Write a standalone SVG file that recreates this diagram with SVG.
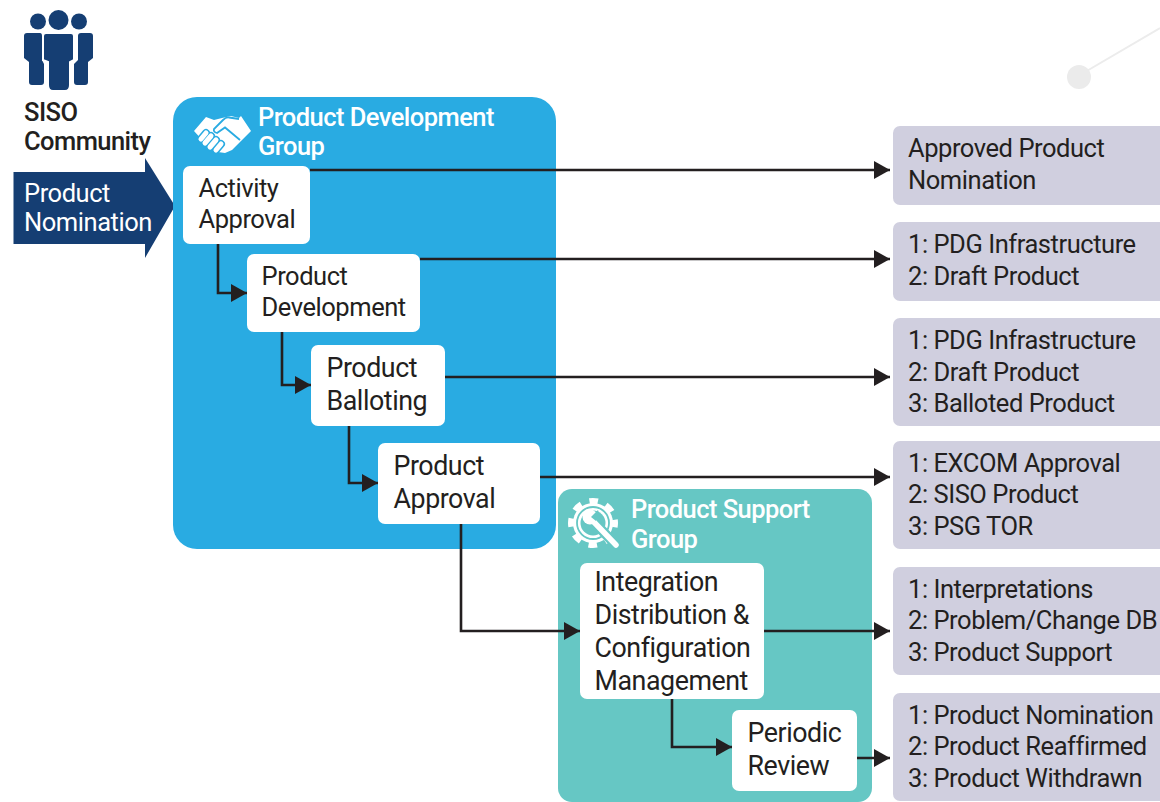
<svg xmlns="http://www.w3.org/2000/svg" width="1160" height="802" viewBox="0 0 1160 802">
<style>
text{font-family:Roboto,"Liberation Sans",sans-serif;font-size:25.5px;letter-spacing:-.45px;fill:#231f20}
.l{font-size:26.8px}
.w{fill:#fff}
.g{font-weight:500;fill:#fff;letter-spacing:-.55px}
.m{font-weight:500;letter-spacing:-.55px}
.b{fill:#fff}
.o{fill:#d0cfdf}
.c{fill:none;stroke:#231f20;stroke-width:2.6}
.i{fill:#153e73}
</style>
<defs>
<marker id="a" markerUnits="userSpaceOnUse" markerWidth="16" markerHeight="18" refX="16" refY="9" orient="auto"><path d="M0 0L16 9L0 18Z" fill="#231f20"/></marker>
</defs>
<g id="decor"><path d="M1085 72L1160 28" stroke="#ececec" stroke-width="2" fill="none"/><circle cx="1079" cy="77" r="12" fill="#ebebeb"/></g>
<g id="siso-community">
<g class="i"><circle cx="38" cy="21.500" r="8"/><circle cx="58.500" cy="20" r="10"/><circle cx="79" cy="21.500" r="8"/>
<path d="M27 33H40Q42 33 42 36V60L44 64V82Q44 85 41 85H32Q29 85 29 82V62L24 58V36Q24 33 27 33Z"/>
<path d="M90 33H81Q78 33 78 36V60L74 64V82Q74 85 77 85H85Q88 85 88 82V62L93 58V36Q93 33 90 33Z"/>
<path stroke="#fff" stroke-width="2" d="M46 33H71Q74 33 74 36V60L70 62V85Q70 91 65 91H53Q48 91 48 85V62L43 60V36Q43 33 46 33Z"/></g>
<text class="m" x="24" y="121">SISO</text><text class="m" x="24" y="150">Community</text></g>
<g id="product-nomination"><path class="i" d="M13.500 172H145V158L175 206L145 258V244H13.500Z"/><text class="w" x="24" y="202">Product</text><text class="w" x="24" y="231">Nomination</text></g>
<g id="pdg"><rect x="173" y="97" width="383" height="452" rx="24" fill="#29abe2"/>
<path class="b" d="M194 131L206 117L214 120L222 118L231 116L239 118L241 116L251 131L241 141L232 150L225 153L218 152L205 143Z"/>
<path d="M239 119L229 117.500Q226 117 223 120L214 129Q213 132 217 133L225 127.500L240 140" stroke="#29abe2" stroke-width="1.800" fill="none"/>
<g fill="none" stroke-linecap="round"><g stroke="#29abe2" stroke-width="8"><path d="M206 133L201 139M211 136L205 143M216 140L210 147M221 144L216 150"/></g><g stroke="#fff" stroke-width="5"><path d="M206 133L201 139M211 136L205 143M216 140L210 147M221 144L216 150"/></g></g>
<text class="g" x="258" y="126">Product Development</text><text class="g" x="258" y="155">Group</text></g>
<g id="psg"><rect x="558" y="489" width="314" height="313" rx="14" fill="#66c7c4"/>
<circle cx="593" cy="523" r="20" class="b"/>
<circle cx="593" cy="523" r="22" fill="none" stroke="#fff" stroke-width="6" stroke-dasharray="8.640 8.640" stroke-dashoffset="4.320"/>
<circle cx="593" cy="523" r="16" fill="none" stroke="#66c7c4" stroke-width="1.800"/>
<circle cx="593" cy="523" r="12.500" fill="#66c7c4"/>
<path d="M591 519L616 545" stroke="#66c7c4" stroke-width="10" stroke-linecap="round" fill="none"/>
<path d="M591 519L616 545" stroke="#fff" stroke-width="5.500" stroke-linecap="round" fill="none"/>
<circle cx="590" cy="517" r="7.500" class="b"/>
<path d="M591 517L598 510L600 517L596 521Z" fill="#66c7c4"/>
<text class="g" x="631" y="518">Product Support</text><text class="g" x="631" y="548">Group</text></g>
<g id="connectors">
<path class="c" marker-end="url(#a)" d="M310 170H890"/>
<path class="c" marker-end="url(#a)" d="M218 244V293H247"/>
<path class="c" marker-end="url(#a)" d="M420 259H890"/>
<path class="c" marker-end="url(#a)" d="M282 332V385H311"/>
<path class="c" marker-end="url(#a)" d="M445 377H890"/>
<path class="c" marker-end="url(#a)" d="M349 426V483H378"/>
<path class="c" marker-end="url(#a)" d="M540 477H890"/>
<path class="c" marker-end="url(#a)" d="M461 524V631H580"/>
<path class="c" marker-end="url(#a)" d="M764 631H890"/>
<path class="c" marker-end="url(#a)" d="M672 699V747H732"/>
<path class="c" marker-end="url(#a)" d="M857 758H890"/>
</g>
<g id="activity-approval"><rect class="b" x="183" y="166" width="127" height="78" rx="7"/><text x="198.500" y="197">Activity</text><text x="198.500" y="228">Approval</text></g>
<g id="product-development"><rect class="b" x="247" y="254" width="173" height="78" rx="7"/><text x="261.500" y="285">Product</text><text x="261.500" y="316">Development</text></g>
<g id="product-balloting"><rect class="b" x="311" y="345" width="134" height="81" rx="7"/><text class="l" x="326.500" y="377">Product</text><text class="l" x="326.500" y="410">Balloting</text></g>
<g id="product-approval"><rect class="b" x="378" y="443" width="162" height="81" rx="7"/><text class="l" x="393.500" y="475">Product</text><text class="l" x="393.500" y="508">Approval</text></g>
<g id="integration"><rect class="b" x="580" y="563" width="184" height="136" rx="7"/><text class="l" x="594.500" y="591">Integration</text><text class="l" x="594.500" y="624">Distribution &amp;</text><text class="l" x="594.500" y="657">Configuration</text><text class="l" x="594.500" y="690">Management</text></g>
<g id="periodic-review"><rect class="b" x="732" y="710" width="125" height="81" rx="7"/><text class="l" x="747.500" y="742">Periodic</text><text class="l" x="747.500" y="775">Review</text></g>
<g id="out1"><rect class="o" x="893" y="126" width="280" height="79" rx="7"/><text x="908" y="157">Approved Product</text><text x="908" y="189">Nomination</text></g>
<g id="out2"><rect class="o" x="893" y="222" width="280" height="79" rx="7"/><text x="908" y="253">1: PDG Infrastructure</text><text x="908" y="285">2: Draft Product</text></g>
<g id="out3"><rect class="o" x="893" y="318" width="280" height="108" rx="7"/><text x="908" y="349">1: PDG Infrastructure</text><text x="908" y="381">2: Draft Product</text><text x="908" y="412">3: Balloted Product</text></g>
<g id="out4"><rect class="o" x="893" y="441" width="280" height="108" rx="7"/><text x="908" y="472">1: EXCOM Approval</text><text x="908" y="503">2: SISO Product</text><text x="908" y="535">3: PSG TOR</text></g>
<g id="out5"><rect class="o" x="893" y="567" width="280" height="108" rx="7"/><text x="908" y="598">1: Interpretations</text><text x="908" y="629">2: Problem/Change DB</text><text x="908" y="661">3: Product Support</text></g>
<g id="out6"><rect class="o" x="893" y="693" width="280" height="108" rx="7"/><text x="908" y="724">1: Product Nomination</text><text x="908" y="755">2: Product Reaffirmed</text><text x="908" y="787">3: Product Withdrawn</text></g>
</svg>
